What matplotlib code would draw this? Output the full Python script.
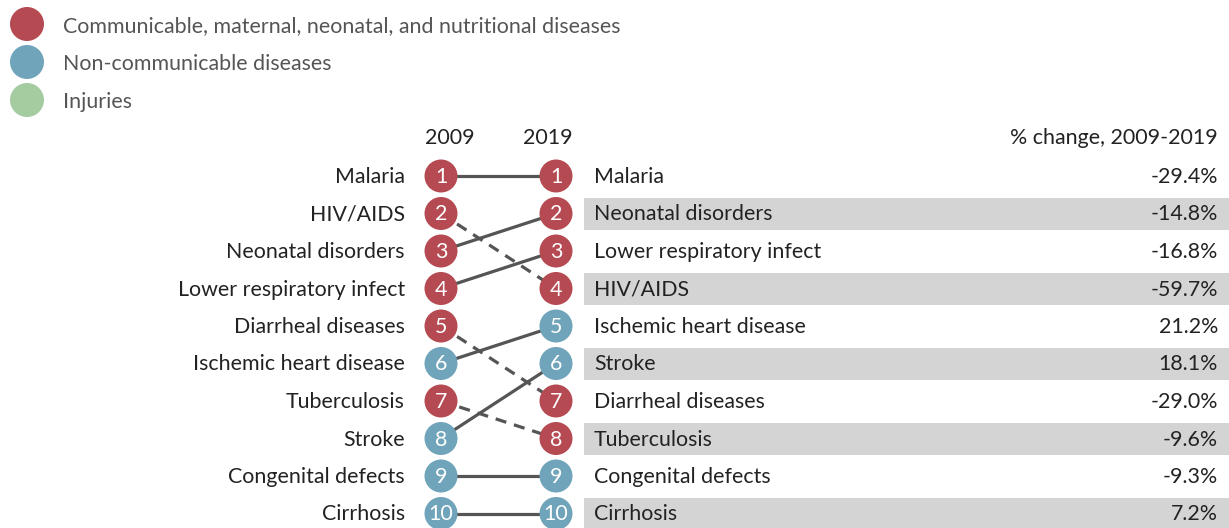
import matplotlib.pyplot as plt
from matplotlib.patches import Circle, Rectangle

plt.rcParams['font.family'] = ['Lato', 'DejaVu Sans']

# legend
legend_labels = ["Communicable, maternal, neonatal, and nutritional diseases",
                 "Non-communicable diseases", "Injuries"]
cat_colors = {"C": "#b54a52", "N": "#70a4ba", "I": "#a5cca1"}
legend_keys = ["C", "N", "I"]

# ranking
names_2009 = ["Malaria", "HIV/AIDS", "Neonatal disorders", "Lower respiratory infect",
              "Diarrheal diseases", "Ischemic heart disease", "Tuberculosis", "Stroke",
              "Congenital defects", "Cirrhosis"]
cats_2009 = ["C", "C", "C", "C", "C", "N", "C", "N", "N", "N"]
names_2019 = ["Malaria", "Neonatal disorders", "Lower respiratory infect", "HIV/AIDS",
              "Ischemic heart disease", "Stroke", "Diarrheal diseases", "Tuberculosis",
              "Congenital defects", "Cirrhosis"]
pct_change = ["-29.4%", "-14.8%", "-16.8%", "-59.7%", "21.2%", "18.1%",
              "-29.0%", "-9.6%", "-9.3%", "7.2%"]

cat_of = dict(zip(names_2009, cats_2009))

fig = plt.figure(figsize=(12.29, 5.28), dpi=100)
ax = fig.add_axes([0, 0, 1, 1])
ax.set_xlim(0, 1229)
ax.set_ylim(528, 0)
ax.axis("off")

txt_col = "#222222"
fs = 15.4

# legend
for i, (lab, k) in enumerate(zip(legend_labels, legend_keys)):
    y = 24 + i * 38
    ax.add_patch(Circle((27, y), 17, color=cat_colors[k], lw=0))
    ax.text(63, y + 2, lab, fontsize=fs, color="#555555", va="center", ha="left")

# geometry
x09, x19 = 441, 556
y0, dy = 176, 37.5
r = 16.5

ax.text(450, 138, "2009", fontsize=fs, color=txt_col, ha="center", va="center")
ax.text(548, 138, "2019", fontsize=fs, color=txt_col, ha="center", va="center")
ax.text(1218, 138, "% change, 2009-2019", fontsize=fs, color=txt_col, ha="right", va="center")

for i in range(len(names_2019)):
    y = y0 + i * dy
    if i % 2 == 1:
        ax.add_patch(Rectangle((584, y - 16), 645, 32, color="#d4d4d4", lw=0, zorder=0))

# connecting lines
for i, name in enumerate(names_2009):
    j = names_2019.index(name)
    ls = "-" if j <= i else (0, (3.5, 2.5))
    ax.plot([x09, x19], [y0 + i * dy, y0 + j * dy], color="#555555", lw=2.3,
            ls=ls, zorder=1, solid_capstyle="butt")

for i, name in enumerate(names_2009):
    y = y0 + i * dy
    ax.text(405, y + 1, name, fontsize=fs, color=txt_col, ha="right", va="center")
    ax.add_patch(Circle((x09, y), r, color=cat_colors[cat_of[name]], lw=0, zorder=2))
    ax.text(x09, y + 1, str(i + 1), fontsize=fs, color="white", ha="center", va="center", zorder=3)

for i, name in enumerate(names_2019):
    y = y0 + i * dy
    ax.add_patch(Circle((x19, y), r, color=cat_colors[cat_of[name]], lw=0, zorder=2))
    ax.text(x19, y + 1, str(i + 1), fontsize=fs, color="white", ha="center", va="center", zorder=3)
    ax.text(594, y + 1, name, fontsize=fs, color=txt_col, ha="left", va="center")
    ax.text(1218, y + 1, pct_change[i], fontsize=fs, color=txt_col, ha="right", va="center")

fig.savefig("out.png", dpi=100)
